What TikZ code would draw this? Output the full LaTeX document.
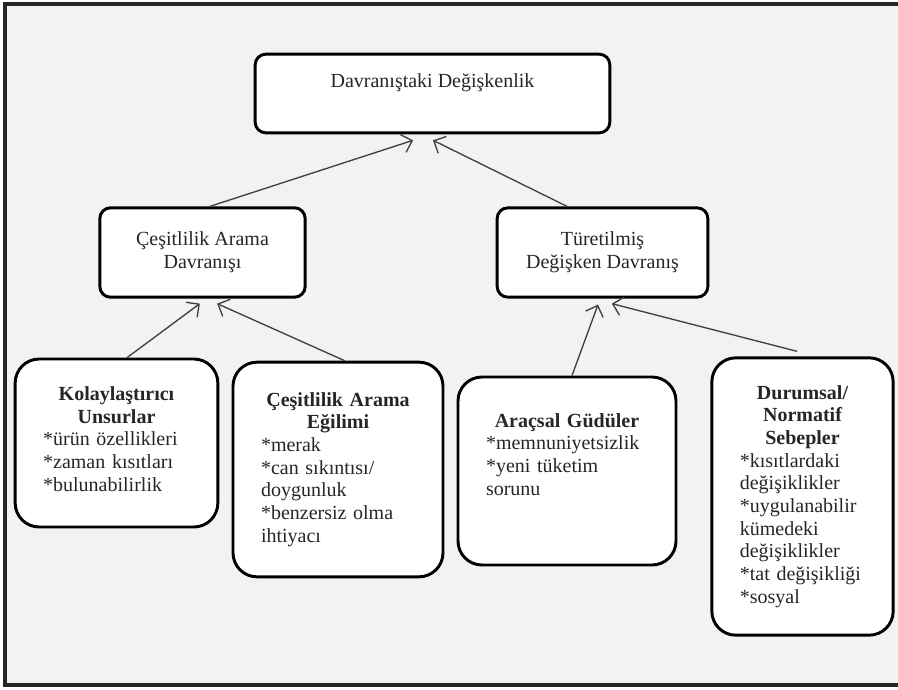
\documentclass[tikz,border=0pt]{standalone}
\usepackage{fontspec}
\setmainfont{Liberation Serif}
\usetikzlibrary{arrows.meta}
\definecolor{paper}{HTML}{F2F2F2}
\definecolor{ink}{HTML}{262626}

\begin{document}
\begin{tikzpicture}[x=0.75pt,y=-0.75pt]
    \tikzstyle{headbox}=[draw=black,fill=white,line width=2.2pt,rounded corners=8pt,inner sep=0pt,text=ink,font=\fontsize{15pt}{17pt}\selectfont,align=center]
    \tikzstyle{midbox}=[headbox,minimum height=67pt]
    \tikzstyle{leafbox}=[headbox,rounded corners=18pt,inner xsep=21pt,align=left]
    \tikzstyle{link}=[draw=black!75,line width=1pt,-{Straight Barb[length=7pt,width=14pt]}]
    \useasboundingbox (0,0) rectangle (898,689);
    \fill[paper] (5,4) rectangle (898,685);
    \draw[line width=2.5pt,black!85] (898,4) -- (5,4) -- (5,685) -- (898,685);
    \node (degisken)[headbox,minimum width=266pt,minimum height=59pt] at (432.5,93.5) {Davranıştaki Değişkenlik\rule[-19pt]{0pt}{19pt}};
    \node (cad)[midbox,minimum width=154pt] at (202.5,252.5) {Çeşitlilik Arama\\Davranışı};
    \node (tur)[midbox,minimum width=158pt] at (602.5,252.5) {Türetilmiş\\Değişken Davranış};
    \node (kol)[leafbox,text width=110pt,minimum height=126pt] at (116.5,443) {{\centering\textbf{Kolaylaştırıcı\\Unsurlar}\par}*ürün özellikleri\\{}*zaman kısıtları\\{}*bulunabilirlik\rule[-6pt]{0pt}{6pt}};
    \node (egi)[leafbox,text width=115.5pt,minimum height=161pt] at (338,469.5) {{\centering\textbf{Çeşitlilik Arama\\Eğilimi}\par}*merak\\{}*can sıkıntısı/\\doygunluk\\{}*benzersiz olma\\ihtiyacı};
    \node (ara)[leafbox,text width=121.5pt,minimum height=141pt] at (567,471) {{\centering\textbf{Araçsal Güdüler}\par}*memnuniyetsizlik\\{}*yeni tüketim\\sorunu\rule[-25pt]{0pt}{25pt}};
    \node (dur)[leafbox,text width=94pt,minimum height=208pt] at (802.5,496.5) {{\centering\textbf{Durumsal/\\Normatif\\Sebepler}\par}*kısıtlardaki\\değişiklikler\\{}*uygulanabilir\\kümedeki\\değişiklikler\\{}*tat değişikliği\\{}*sosyal};
    \draw[link] ([xshift=5.6pt]cad.north) -- ([xshift=-14.6pt,yshift=-4.5pt]degisken.south);
    \draw[link] ([xshift=-26.6pt]tur.north) -- ([xshift=0.4pt,yshift=-4.5pt]degisken.south);
    \draw[link] ([xshift=8pt]kol.north) -- ([xshift=-2pt,yshift=-3.75pt]cad.south);
    \draw[link] ([xshift=5pt]egi.north) -- ([xshift=11pt,yshift=-3.75pt]cad.south);
    \draw[link] ([xshift=3.75pt]ara.north) -- ([xshift=-3.4pt,yshift=-4.5pt]tur.south);
    \draw[link] ([xshift=-4pt,yshift=3.75pt]dur.north) -- ([xshift=7pt,yshift=-3.75pt]tur.south);
\end{tikzpicture}
\end{document}
